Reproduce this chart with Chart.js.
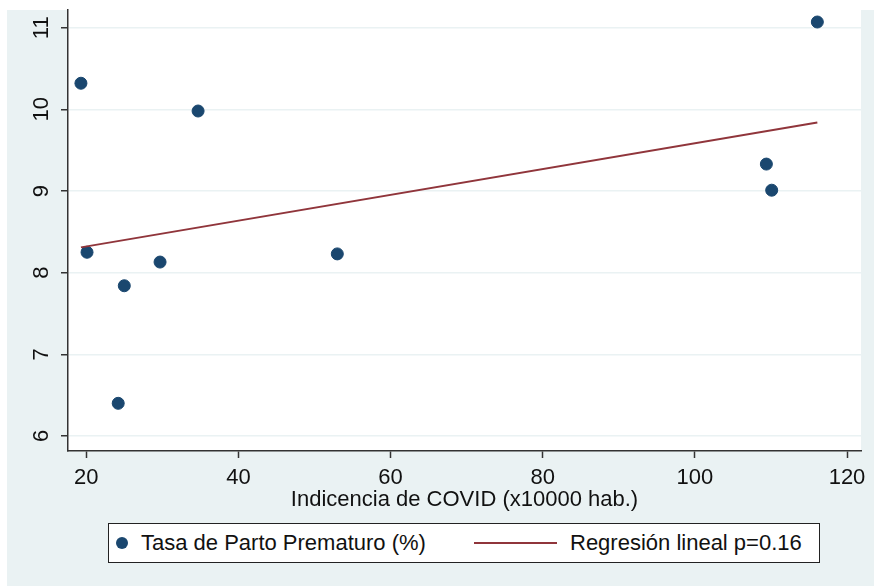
<!DOCTYPE html>
<html>
<head>
<meta charset="utf-8">
<script src="https://cdn.jsdelivr.net/npm/chart.js@4"></script>
<style>
  body { margin: 0; background: #fff; font-family: "Liberation Sans", Arial, sans-serif; }
  #wrap { position: relative; width: 874px; height: 586px; }
  #legend {
    position: absolute; left: 108px; top: 523px; width: 710px; height: 38px;
    background: #fff; border: 1px solid #222; font-size: 22px; color: #111;
  }
  #legend .item { position: absolute; top: 0; height: 38px; line-height: 38px; white-space: nowrap; }
  #legend .dot { position: absolute; width: 12px; height: 12px; border-radius: 50%; top: 13px; }
  #legend .line { position: absolute; height: 2px; top: 18px; }
</style>
</head>
<body>
<div id="wrap">
  <canvas id="chart" width="874" height="586"></canvas>
  <div id="legend"></div>
</div>
<script>
// Data
const covidIncidence = [19.3, 20.1, 24.2, 25.0, 29.7, 34.7, 53.0, 109.4, 110.1, 116.1];
const pretermRate = [10.32, 8.25, 6.40, 7.84, 8.13, 9.98, 8.23, 9.33, 9.01, 11.07];
const fitX = [19.3, 116.1];
const fitY = [8.31, 9.84];
const xTicks = [20, 40, 60, 80, 100, 120];
const yTicks = [6, 7, 8, 9, 10, 11];
const seriesLabels = ['Tasa de Parto Prematuro (%)', 'Regresión lineal p=0.16'];

const navy = '#1a476f';
const maroon = '#90353b';
const bgBlue = '#eaf2f3';
const fontFamily = '"Liberation Sans", Arial, sans-serif';

// Stata-like backgrounds: outer region + white plot area
const bgPlugin = {
  id: 'bg',
  beforeDraw(chart) {
    const { ctx, chartArea: a } = chart;
    ctx.save();
    ctx.fillStyle = '#fff';
    ctx.fillRect(0, 0, chart.width, chart.height);
    ctx.fillStyle = bgBlue;
    ctx.fillRect(7, 10, chart.width - 7, chart.height - 10);
    ctx.fillStyle = '#fff';
    ctx.fillRect(a.left, a.top, a.right - a.left, a.bottom - a.top);
    ctx.restore();
  }
};

const ctx = document.getElementById('chart').getContext('2d');
new Chart(ctx, {
  type: 'scatter',
  data: {
    datasets: [{
      label: seriesLabels[0],
      data: covidIncidence.map((x, i) => ({ x: x, y: pretermRate[i] })),
      backgroundColor: navy,
      borderColor: navy,
      pointRadius: 6,
      pointHoverRadius: 6,
      order: 2
    }, {
      label: seriesLabels[1],
      data: fitX.map((x, i) => ({ x: x, y: fitY[i] })),
      showLine: true,
      borderColor: maroon,
      borderWidth: 2,
      pointRadius: 0,
      order: 1
    }]
  },
  options: {
    responsive: false,
    animation: false,
    layout: { padding: { top: 10, right: 13, bottom: 71, left: 0 } },
    plugins: {
      legend: { display: false },
      tooltip: { enabled: false }
    },
    scales: {
      x: {
        type: 'linear',
        min: 17.6,
        max: 121.84,
        afterBuildTicks: (s) => { s.ticks = xTicks.map(v => ({ value: v })); },
        afterFit: (s) => { s.height = 64; s.paddingLeft = 0; s.paddingRight = 0; },
        ticks: {
          font: { size: 22, family: fontFamily },
          color: '#111',
          padding: 7,
          maxRotation: 0
        },
        grid: { drawOnChartArea: false, tickLength: 7, tickColor: '#333', tickWidth: 1.5 },
        border: { color: '#333', width: 1.5 },
        title: {
          display: true,
          text: 'Indicencia de COVID (x10000 hab.)',
          font: { size: 22, family: fontFamily },
          color: '#111',
          padding: { top: 0, bottom: 2 }
        }
      },
      y: {
        type: 'linear',
        min: 5.816,
        max: 11.217,
        afterBuildTicks: (s) => { s.ticks = yTicks.map(v => ({ value: v })); },
        afterFit: (s) => { s.width = 68; s.paddingTop = 0; s.paddingBottom = 0; },
        ticks: {
          font: { size: 22, family: fontFamily },
          color: '#111',
          padding: 7,
          minRotation: 90,
          maxRotation: 90,
          crossAlign: 'center'
        },
        grid: { color: bgBlue, lineWidth: 1.5, tickLength: 7, tickColor: '#333', tickWidth: 1.5 },
        border: { color: '#333', width: 1.5 }
      }
    }
  },
  plugins: [bgPlugin]
});

// Boxed legend under the plot
const legend = document.getElementById('legend');
legend.innerHTML =
  '<span class="dot" style="left:7px;background:' + navy + '"></span>' +
  '<span class="item" style="left:32px">' + seriesLabels[0] + '</span>' +
  '<span class="line" style="left:365px;width:83px;background:' + maroon + '"></span>' +
  '<span class="item" style="left:461px">' + seriesLabels[1] + '</span>';
</script>
</body>
</html>
